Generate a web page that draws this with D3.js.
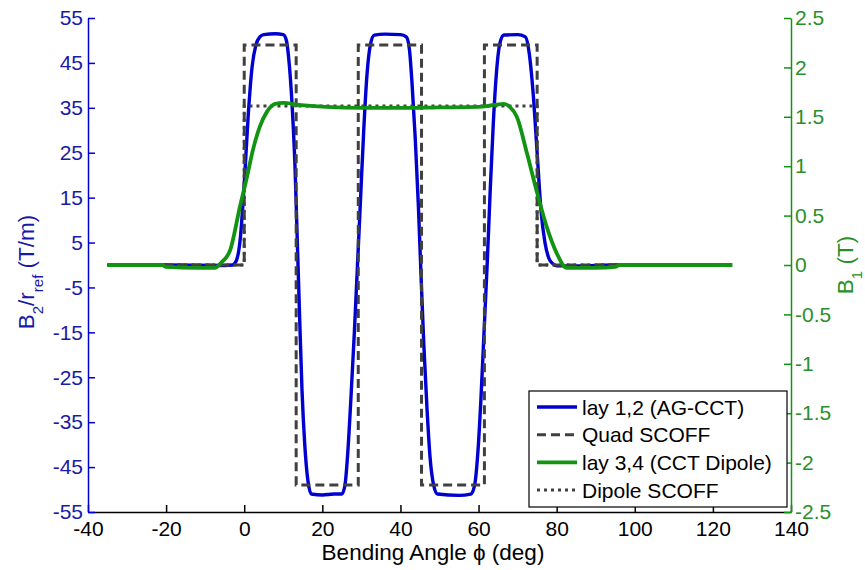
<!DOCTYPE html>
<html>
<head>
<meta charset="utf-8">
<script src="https://cdn.jsdelivr.net/npm/d3@7"></script>
<style>
  body { margin: 0; background: #fff; }
  svg { display: block; font-family: "Liberation Sans", Arial, sans-serif; }
</style>
</head>
<body>
<svg id="chart" width="865" height="570"></svg>
<script>
// ---------- DATA ----------
// lay 1,2 (AG-CCT): B2/rref in T/m vs bending angle (deg)
const agPhi = [-35,-20,-5,-3,-2,-1,0,1,2,3,4,5,8,10,10.8,11.5,12.3,13,13.6,14.2,14.8,15.5,16.3,17.2,20,23,25,25.8,26.5,27.3,28.2,29,29.8,30.6,31.4,32.3,33.3,36,40,41.5,42.3,43,43.8,44.6,45.3,46,46.8,47.6,48.5,49.5,55,58,59,59.8,60.6,61.4,62.2,63,63.8,64.6,65.5,66.5,70,72,73,74,75,76,77,78,79,80,85,95,110];
const agB2  = [0,0,-0.1,0,1,6,18,33,44,49,50.8,51.3,51.5,51.3,50,45,35,22,5,-12,-28,-40,-48,-51,-51.2,-51,-51,-49,-42,-30,-15,0,15,30,42,49,51.2,51.4,51.3,50.8,48,40,28,13,-3,-18,-32,-43,-49,-51,-51.3,-51,-49,-42,-30,-15,0,17,32,43,49.5,51.2,51.3,50.8,47,38,25,12,5,1.5,0.3,-0.2,-0.2,0,0];

// Quad SCOFF (T/m)
const quadPhi = [-35,0,0,13.3,13.3,29.2,29.2,45.4,45.4,61.5,61.5,75,75,110];
const quadB2  = [0,0,49,49,-49,-49,49,49,-49,-49,49,49,0,0];

// lay 3,4 (CCT Dipole): B1 in T
const dipPhi = [-35,-21,-20,-12,-7.5,-6,-3.6,-1.1,0.7,2.2,4,5.8,7.9,10,14,21,30,40,50,60,64,66.5,68,69.8,72.4,75,77.5,80,82.6,90,95,96,125];
const dipB1  = [0,0,-0.02,-0.03,-0.03,0.02,0.15,0.59,0.89,1.16,1.40,1.55,1.63,1.64,1.62,1.60,1.59,1.59,1.595,1.60,1.62,1.63,1.60,1.50,1.13,0.73,0.38,0.12,-0.03,-0.03,-0.02,0,0];

// Dipole SCOFF (T)
const dscPhi = [-35,0,0,75,75,110];
const dscB1  = [0,0,1.61,1.61,0,0];

// Axis ticks
const xTicks = [-40,-20,0,20,40,60,80,100,120,140];
const leftTicks = [55,45,35,25,15,5,-5,-15,-25,-35,-45,-55];
const rightTicks = [2.5,2,1.5,1,0.5,0,-0.5,-1,-1.5,-2,-2.5];

const legendLabels = ["lay 1,2 (AG-CCT)", "Quad SCOFF", "lay 3,4 (CCT Dipole)", "Dipole SCOFF"];

// ---------- STYLE ----------
const BLUE = "#0000d0", BLUE_TXT = "#1a1aa8";
const GREEN = "#129412", GREEN_TXT = "#2a8f2a";
const GRAY = "#404040";
const FONT = "Liberation Sans, Arial, sans-serif";

const svg = d3.select("#chart");
const m = {left: 88, right: 791, top: 18, bottom: 512};

const x = d3.scaleLinear().domain([-40, 140]).range([m.left, m.right]);
const yL = d3.scaleLinear().domain([-55, 55]).range([m.bottom, m.top]);
const yR = d3.scaleLinear().domain([-2.5, 2.5]).range([m.bottom, m.top]);

// ---------- LINES ----------
const zipped = (a, b) => a.map((v, i) => [v, b[i]]);

const lineL = d3.line().x(d => x(d[0])).y(d => yL(d[1]));
const lineR = d3.line().x(d => x(d[0])).y(d => yR(d[1]));
const smoothL = d3.line().x(d => x(d[0])).y(d => yL(d[1])).curve(d3.curveMonotoneX);
const smoothR = d3.line().x(d => x(d[0])).y(d => yR(d[1])).curve(d3.curveMonotoneX);

const plot = svg.append("g");

plot.append("path").attr("d", smoothL(zipped(agPhi, agB2)))
  .attr("fill", "none").attr("stroke", BLUE).attr("stroke-width", 3.4).attr("stroke-linejoin", "round");

plot.append("path").attr("d", lineL(zipped(quadPhi, quadB2)))
  .attr("fill", "none").attr("stroke", GRAY).attr("stroke-width", 3).attr("stroke-dasharray", "9,5");

plot.append("path").attr("d", lineR(zipped(dscPhi, dscB1)))
  .attr("fill", "none").attr("stroke", GRAY).attr("stroke-width", 3).attr("stroke-dasharray", "3,4");

plot.append("path").attr("d", smoothR(zipped(dipPhi, dipB1)))
  .attr("fill", "none").attr("stroke", GREEN).attr("stroke-width", 3.8).attr("stroke-linejoin", "round");

// ---------- AXES ----------
const fs = "21px";
const fmt = d => String(d);

// bottom
const xAxis = svg.append("g").attr("transform", `translate(0,${m.bottom})`)
  .call(d3.axisBottom(x).tickValues(xTicks).tickFormat(fmt).tickSizeInner(-7).tickSizeOuter(0).tickPadding(9));
xAxis.select(".domain").attr("stroke", "#000").attr("stroke-width", 1.5);
xAxis.selectAll(".tick line").attr("stroke", "#000").attr("stroke-width", 1.5);
xAxis.selectAll(".tick text").attr("fill", "#000").style("font-size", fs).attr("font-family", FONT);

// left
const lAxis = svg.append("g").attr("transform", `translate(${m.left},0)`)
  .call(d3.axisLeft(yL).tickValues(leftTicks).tickFormat(fmt).tickSizeInner(-7).tickSizeOuter(0).tickPadding(5));
lAxis.select(".domain").attr("stroke", BLUE).attr("stroke-width", 1.5);
lAxis.selectAll(".tick line").attr("stroke", BLUE).attr("stroke-width", 1.5);
lAxis.selectAll(".tick text").attr("fill", BLUE_TXT).style("font-size", fs).attr("font-family", FONT);

// right
const rAxis = svg.append("g").attr("transform", `translate(${m.right},0)`)
  .call(d3.axisRight(yR).tickValues(rightTicks).tickFormat(fmt).tickSizeInner(-7).tickSizeOuter(0).tickPadding(4));
rAxis.select(".domain").attr("stroke", GREEN).attr("stroke-width", 1.5);
rAxis.selectAll(".tick line").attr("stroke", GREEN).attr("stroke-width", 1.5);
rAxis.selectAll(".tick text").attr("fill", GREEN_TXT).style("font-size", fs).attr("font-family", FONT);

// axis titles
svg.append("text").attr("x", 433).attr("y", 560)
  .attr("text-anchor", "middle").style("font-size", "22.5px").attr("fill", "#000")
  .text("Bending Angle ϕ (deg)");

const lt = svg.append("text").attr("transform", `translate(34,272) rotate(-90)`)
  .attr("text-anchor", "middle").style("font-size", "22.5px").attr("fill", BLUE_TXT);
lt.append("tspan").text("B");
lt.append("tspan").attr("baseline-shift", "sub").style("font-size", "15px").text("2");
lt.append("tspan").text("/r");
lt.append("tspan").attr("baseline-shift", "sub").style("font-size", "15px").text("ref");
lt.append("tspan").text(" (T/m)");

const rt = svg.append("text").attr("transform", `translate(853,265) rotate(-90)`)
  .attr("text-anchor", "middle").style("font-size", "22.5px").attr("fill", GREEN_TXT);
rt.append("tspan").text("B");
rt.append("tspan").attr("baseline-shift", "sub").style("font-size", "15px").text("1");
rt.append("tspan").text(" (T)");

// ---------- LEGEND ----------
const lg = svg.append("g");
lg.append("rect").attr("x", 529).attr("y", 391).attr("width", 258).attr("height", 116)
  .attr("fill", "#fff").attr("stroke", "#000").attr("stroke-width", 1.2);
const legStyles = [
  {stroke: BLUE, dash: null, w: 3.4},
  {stroke: GRAY, dash: "9,5", w: 3},
  {stroke: GREEN, dash: null, w: 3.8},
  {stroke: GRAY, dash: "3,4", w: 3}
];
legendLabels.forEach((lab, i) => {
  const cy = 407 + i * 27.7;
  lg.append("line").attr("x1", 537).attr("x2", 577).attr("y1", cy).attr("y2", cy)
    .attr("stroke", legStyles[i].stroke).attr("stroke-width", legStyles[i].w)
    .attr("stroke-dasharray", legStyles[i].dash);
  lg.append("text").attr("x", 582).attr("y", cy + 7.5).style("font-size", "21px").attr("fill", "#000").text(lab);
});
</script>
</body>
</html>
